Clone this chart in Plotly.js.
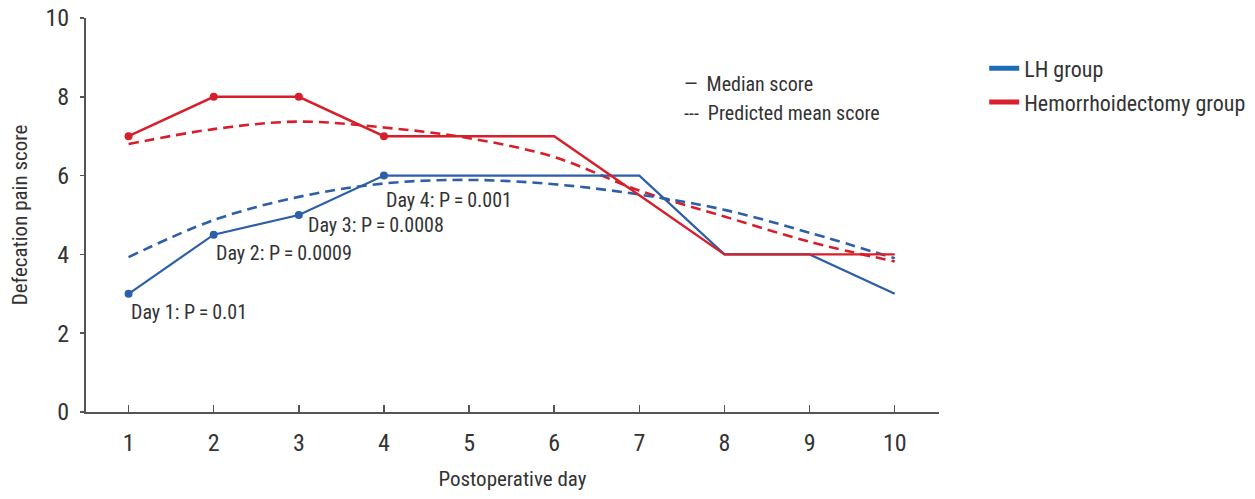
<!DOCTYPE html>
<html>
<head>
<meta charset="utf-8">
<script src="https://cdn.plot.ly/plotly-3.0.1.min.js"></script>
<style>html,body{margin:0;padding:0;background:#fff;}#chart{width:1255px;height:499px;}</style>
</head>
<body>
<div id="chart"></div>
<script>
var days = [1, 2, 3, 4, 5, 6, 7, 8, 9, 10];
var lhMedian = [3, 4.5, 5, 6, 6, 6, 6, 4, 4, 3];
var hemMedian = [7, 8, 8, 7, 7, 7, 5.5, 4, 4, 4];
var lhPredicted = [3.93, 4.87, 5.46, 5.8, 5.89, 5.78, 5.52, 5.13, 4.55, 3.9];
var hemPredicted = [6.8, 7.18, 7.37, 7.22, 6.95, 6.47, 5.62, 4.96, 4.32, 3.82];
var markerDays = [1, 2, 3, 4];
var lhMarkers = [3, 4.5, 5, 6];
var hemMarkers = [7, 8, 8, 7];
var pLabels = ["Day 1: P\u2009=\u20090.01", "Day 2: P\u2009=\u20090.0009", "Day 3: P\u2009=\u20090.0008", "Day 4: P\u2009=\u20090.001"];
var pLabelX = [1, 2, 3.08, 4];
var pLabelY = [2.54, 4.04, 4.75, 5.38];
var groupNames = ["LH group", "Hemorrhoidectomy group"];
var styleNames = ["Median score", "Predicted mean score"];

var FONT = '"Liberation Sans Narrow", "Roboto Condensed", "Liberation Sans", Arial, sans-serif';
var BLUE = '#2d5fa8';
var RED = '#d61f2b';
var BLUE_LEG = '#1f6db5';
var RED_LEG = '#dc1f2e';
var TXT = '#333333';

var traces = [
  {x: days, y: hemPredicted, mode: 'lines', line: {color: RED, width: 2.6, dash: '10px,6px', shape: 'spline'}, showlegend: false, hoverinfo: 'skip'},
  {x: days, y: lhPredicted, mode: 'lines', line: {color: BLUE, width: 2.6, dash: '10px,6px', shape: 'spline'}, showlegend: false, hoverinfo: 'skip'},
  {x: days, y: lhMedian, mode: 'lines', line: {color: BLUE, width: 2.2}, showlegend: false},
  {x: days, y: hemMedian, mode: 'lines', line: {color: RED, width: 2.4}, showlegend: false},
  {x: markerDays, y: lhMarkers, mode: 'markers', marker: {color: BLUE, size: 8}, showlegend: false},
  {x: markerDays, y: hemMarkers, mode: 'markers', marker: {color: RED, size: 8}, showlegend: false},
  {x: [null], y: [null], mode: 'lines', name: groupNames[0], legendgroup: 'a', line: {color: BLUE_LEG, width: 5}, showlegend: true},
  {x: [null], y: [null], mode: 'lines', name: groupNames[1], legendgroup: 'b', line: {color: RED_LEG, width: 5}, showlegend: true}
];

var annotations = pLabels.map(function (t, i) {
  return {x: pLabelX[i], y: pLabelY[i], xref: 'x', yref: 'y', text: t, showarrow: false,
    xanchor: 'left', yanchor: 'middle', font: {family: FONT, size: 20, color: TXT}};
});
annotations.push({x: 0.6985, y: 0.832, xref: 'paper', yref: 'paper', text: '\u2014\u2002' + styleNames[0], showarrow: false,
  xanchor: 'left', yanchor: 'middle', font: {family: FONT, size: 20, color: TXT}});
annotations.push({x: 0.6985, y: 0.76, xref: 'paper', yref: 'paper', text: '---\u2002' + styleNames[1], showarrow: false,
  xanchor: 'left', yanchor: 'middle', font: {family: FONT, size: 20, color: TXT}});

var layout = {
  width: 1255, height: 499,
  margin: {l: 86, r: 316, t: 18, b: 87, autoexpand: false},
  paper_bgcolor: '#ffffff', plot_bgcolor: '#ffffff',
  font: {family: FONT, color: TXT},
  xaxis: {
    range: [0.5, 10.52], tickvals: days, ticktext: days.map(String),
    ticks: 'inside', ticklen: 7, tickwidth: 1.5, tickcolor: '#555',
    showline: true, linecolor: '#555', linewidth: 2, showgrid: false, zeroline: false,
    tickfont: {family: FONT, size: 24, color: TXT}, ticklabelstandoff: 8,
    title: {text: 'Postoperative day', font: {family: FONT, size: 21, color: TXT}, standoff: 16}
  },
  yaxis: {
    range: [0, 10], tickvals: [0, 2, 4, 6, 8, 10],
    ticks: 'outside', ticklen: 4, tickwidth: 1.5, tickcolor: '#555',
    showline: true, linecolor: '#555', linewidth: 2, showgrid: false, zeroline: false,
    tickfont: {family: FONT, size: 24, color: TXT}, ticklabelstandoff: 6,
    title: {text: 'Defecation pain score', font: {family: FONT, size: 21, color: TXT}, standoff: 12}
  },
  showlegend: true,
  legend: {x: 1.053, y: 0.925, xanchor: 'left', yanchor: 'top', bgcolor: 'rgba(0,0,0,0)',
    font: {family: FONT, size: 22, color: TXT}, tracegroupgap: 2, itemwidth: 30},
  annotations: annotations
};

Plotly.newPlot('chart', traces, layout, {displayModeBar: false, staticPlot: true});
</script>
</body>
</html>
